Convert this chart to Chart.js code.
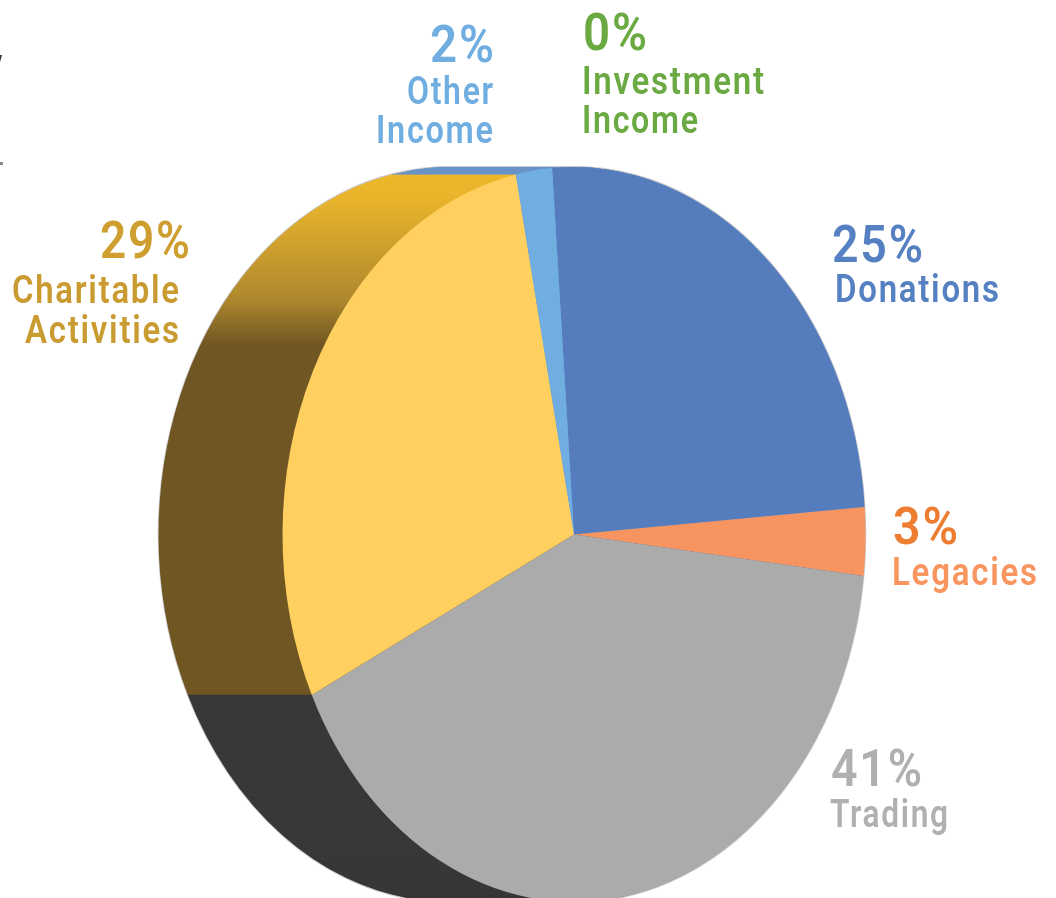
<!DOCTYPE html>
<html>
<head>
<meta charset="utf-8">
<style>html,body{margin:0;padding:0;background:#fff}canvas{display:block}</style>
<script src="https://cdn.jsdelivr.net/npm/chart.js@4/dist/chart.umd.min.js"></script>
</head>
<body>
<canvas id="c" width="1056" height="898"></canvas>
<script>
const categories = ['Donations', 'Legacies', 'Trading', 'Charitable Activities', 'Other Income', 'Investment Income'];
const shares = [25, 3, 41, 29, 2, 0];
const faceColors = ['#557DBE', '#F89460', '#ABABAB', '#FFCF5F', '#70ADE0', '#6BAA42'];
const percentColors = ['#5580C2', '#ED7D31', '#B0B0B0', '#CE9E2E', '#70ADE0', '#6BAA42'];
const nameColors = ['#5580C2', '#F9955F', '#B0B0B0', '#C99B30', '#70ADE0', '#6BAA42'];

// Layout only: text boxes as [left, baseline, width]
const percentBoxes = [[832,262,91],[893,544,65],[831,786,91],[100,258,90],[430,62,64],[583,50,64]];
const nameBoxes = [
  [[835,302,164]],
  [[892,585,145]],
  [[830,827,118]],
  [[12,303,167],[25,343,154]],
  [[407,104,86],[376,143,117]],
  [[582,94,182],[582,133,116]]
];
const squash = 291.5 / 367.5;   // the tilted pie is seen as an upright ellipse
const depth = 124;              // horizontal thickness of the tilted pie

function sidePaint(ctx, i) {
  if (i === 3) {
    const top = 172, span = 173;
    const g = ctx.createLinearGradient(0, top, 0, top + span);
    [[172,'#EEB82C'],[200,'#E9B32B'],[245,'#CEA02D'],[300,'#AE882D'],[325,'#8A6B28'],[345,'#705622']]
      .forEach(([y, col]) => g.addColorStop((y - top) / span, col));
    return g;
  }
  return ['#6A94C8', '#6A94C8', '#383838', '#000', '#6A94C8', '#6A94C8'][i];
}

const tiltPlugin = {
  id: 'tilt',
  beforeDatasetsDraw(chart) {
    const ctx = chart.ctx, arcs = chart.getDatasetMeta(0).data;
    const cx = arcs[0].x, cy = arcs[0].y, r = arcs[0].outerRadius;
    ctx.save();
    ctx.translate(cx, cy); ctx.scale(squash, 1); ctx.translate(-cx, -cy);
    const step = 1 / squash;
    // faint rim
    ctx.fillStyle = 'rgba(150,150,150,0.5)';
    ctx.beginPath();
    for (let d = depth; d >= 0; d -= 1) {
      ctx.moveTo(cx - d * step + r + 1, cy);
      ctx.arc(cx - d * step, cy, r + 1, 0, Math.PI * 2);
    }
    ctx.fill();
    // side wall, back to front
    const paints = arcs.map((_, i) => sidePaint(ctx, i));
    for (let d = depth; d >= 1; d -= 1) {
      arcs.forEach((a, i) => {
        if (a.endAngle - a.startAngle <= 0) return;
        ctx.fillStyle = paints[i];
        ctx.beginPath();
        ctx.moveTo(a.x - d * step, a.y);
        ctx.arc(a.x - d * step, a.y, a.outerRadius, a.startAngle, a.endAngle);
        ctx.closePath();
        ctx.fill();
      });
    }
  },
  afterDatasetsDraw(chart) {
    chart.ctx.restore();
  },
  afterDraw(chart) {
    const ctx = chart.ctx;
    ctx.save();
    ctx.textAlign = 'left';
    ctx.textBaseline = 'alphabetic';
    ctx.letterSpacing = '2px';
    const put = (text, box) => {
      const w = ctx.measureText(text).width - 2;
      ctx.save();
      ctx.translate(box[0], box[1]);
      ctx.scale(box[2] / w, 1);
      ctx.fillText(text, 0, 0);
      ctx.restore();
    };
    categories.forEach((name, i) => {
      ctx.font = '600 52px Roboto';
      ctx.fillStyle = percentColors[i];
      put(shares[i] + '%', percentBoxes[i]);
      ctx.font = '600 38px Roboto';
      ctx.fillStyle = nameColors[i];
      name.split(' ').forEach((line, k) => put(line, nameBoxes[i][k]));
    });
    // cropped remnants at the left edge of the picture
    ctx.fillStyle = '#333';
    ctx.beginPath(); ctx.moveTo(0, 55); ctx.lineTo(2, 55); ctx.lineTo(0, 62); ctx.fill();
    ctx.fillStyle = '#888';
    ctx.fillRect(0, 162, 3, 3);
    ctx.restore();
  }
};

new Chart(document.getElementById('c'), {
  type: 'pie',
  data: {
    labels: categories,
    datasets: [{
      data: shares,
      backgroundColor: faceColors,
      borderWidth: 0,
      clip: false
    }]
  },
  options: {
    responsive: false,
    animation: false,
    rotation: -4.3,
    radius: '101.1%',
    layout: { padding: { left: 210.5, right: 118.5, top: 171, bottom: 0 } },
    plugins: { legend: { display: false }, tooltip: { enabled: false } }
  },
  plugins: [tiltPlugin]
});
</script>
</body>
</html>
